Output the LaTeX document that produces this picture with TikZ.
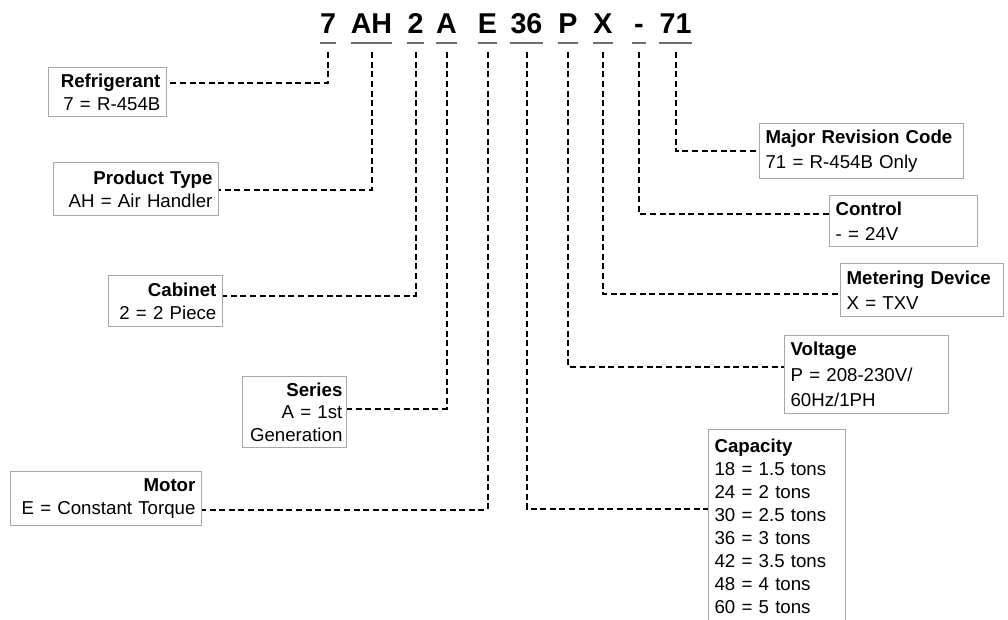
\documentclass[tikz,border=0pt]{standalone}
\usepackage{fontspec}
\setmainfont{Liberation Sans}
\usetikzlibrary{positioning}
\definecolor{boxclr}{RGB}{168,168,168}
\definecolor{ulclr}{RGB}{110,110,110}
\tikzset{
    code/.style={font=\fontsize{21.5}{24}\selectfont\bfseries,inner sep=0pt,text depth=0pt,minimum width=10.5pt,anchor=base},
    uline/.style={draw=ulclr,line width=1.5pt},
    lead/.style={line width=1.5pt,dash pattern=on 4.5pt off 2.7pt},
    infobox/.style={draw=boxclr,line width=0.9pt,inner xsep=4.5pt,inner ysep=4.5pt},
    lbox/.style={infobox,align=right,anchor=north east,font=\fontsize{14}{17}\selectfont},
    rbox/.style={infobox,align=left,anchor=north west,font=\fontsize{14}{19}\selectfont},
}

\begin{document}
\begin{tikzpicture}[x=0.75pt,y=-0.75pt]
\useasboundingbox (0,0) rectangle (1008,619);
\clip (0,0) rectangle (1008,619);
% model number
\foreach \nm/\xx/\tx in {c7/328/7,cAH/371.5/AH,c2/415.5/2,cA/446.5/A,cE/487.5/E,c36/526.5/36,cP/568/P,cX/603/X,cdash/639/-,c71/675.5/71}{
  \node[code] (\nm) at (\xx,33) {\tx};
  \draw[uline] ([yshift=-7.5pt]\nm.south west) -- ([yshift=-7.5pt]\nm.south east);
}
% left boxes
\node[lbox,text width=79.5pt,minimum height=36.75pt] (refr) at (167,67) {\textbf{Refrigerant}\\7 = R-454B};
\node[lbox,text width=114.75pt,minimum height=39.75pt] (ptype) at (219,162) {\textbf{Product Type}\\AH = Air Handler};
\node[lbox,text width=76.5pt,minimum height=38.25pt] (cab) at (223,275) {\textbf{Cabinet}\\2 = 2 Piece};
\node[lbox,inner xsep=3pt,text width=72pt,minimum height=52.5pt] (ser) at (347,376) {\textbf{Series}\\A = 1st\\Generation};
\node[lbox,text width=134.25pt,minimum height=40.5pt] (mot) at (202,471) {\textbf{Motor}\\E = Constant Torque};
% right boxes
\node[rbox,text width=144pt,minimum height=39.75pt] (major) at (759,123) {\textbf{Major Revision Code}\\71 = R-454B Only};
\node[rbox,text width=102pt,minimum height=37.5pt] (ctrl) at (829,195) {\textbf{Control}\\- = 24V};
\node[rbox,text width=113.25pt,minimum height=39.75pt] (meter) at (840,263) {\textbf{Metering Device}\\X = TXV};
\node[rbox,text width=114pt,minimum height=58.5pt] (volt) at (784,335) {\textbf{Voltage}\\P = 208-230V/\\60Hz/1PH};
\node[rbox,text width=93.75pt,inner ysep=6.75pt,font=\fontsize{14}{17.25}\selectfont] (cap) at (708,429)
  {\textbf{Capacity}\\18 = 1.5 tons\\24 = 2 tons\\30 = 2.5 tons\\36 = 3 tons\\42 = 3.5 tons\\48 = 4 tons\\60 = 5 tons};
% leaders
\draw[lead] ([yshift=-14.25pt]c7.south) |- (refr.east |- 0,83);
\draw[lead] ([yshift=-14.25pt]cAH.south) |- (ptype.east |- 0,190);
\draw[lead] ([yshift=-14.25pt]c2.south) |- (cab.east |- 0,296);
\draw[lead] ([yshift=-14.25pt]cA.south) |- (ser.east |- 0,409);
\draw[lead] ([yshift=-14.25pt]cE.south) |- (mot.east |- 0,510);
\draw[lead] ([yshift=-14.25pt]c36.south) |- (cap.west |- 0,509);
\draw[lead] ([yshift=-14.25pt]cP.south) |- (volt.west |- 0,367);
\draw[lead] ([yshift=-14.25pt]cX.south) |- (meter.west |- 0,294);
\draw[lead] ([yshift=-14.25pt]cdash.south) |- (ctrl.west |- 0,214);
\draw[lead] ([yshift=-14.25pt]c71.south) |- (major.west |- 0,151);
\end{tikzpicture}
\end{document}
